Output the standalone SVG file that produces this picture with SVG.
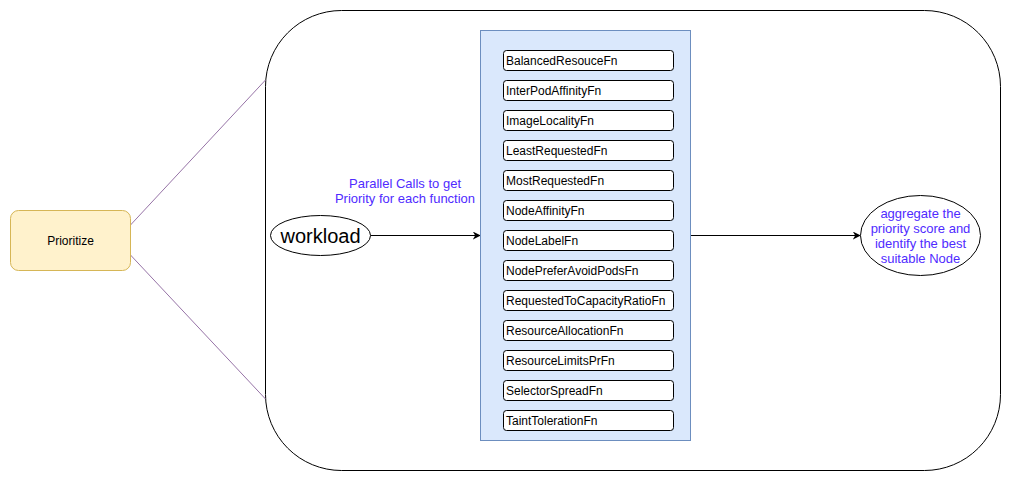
<svg xmlns="http://www.w3.org/2000/svg" width="1011" height="481" viewBox="0 0 1011 481">
<style>
text{font-family:"Liberation Sans",Arial,sans-serif;}
.fn rect{fill:#fff;stroke:#000;stroke-width:1;}
.fn text{font-size:12px;fill:#000;}
.lbl{font-size:13px;fill:#4f2bff;text-anchor:middle;}
</style>
<defs>
<marker id="arr" viewBox="0 0 10 10" refX="9" refY="5" markerWidth="8" markerHeight="8" markerUnits="userSpaceOnUse" orient="auto"><path d="M0,0 L10,5 L0,10 L3,5 Z" fill="#000"/></marker>
</defs>
<rect width="1011" height="481" fill="#fff"/>
<g id="container"><rect x="265.5" y="10.5" width="735" height="460" rx="76" ry="76" fill="#fff" stroke="#000"/></g>
<g id="connectors" fill="none">
<line x1="130.5" y1="225" x2="265.5" y2="80" stroke="#9673a6"/>
<line x1="130.5" y1="255" x2="265.5" y2="399" stroke="#9673a6"/>
<line x1="370.5" y1="235.5" x2="480" y2="235.5" stroke="#000" marker-end="url(#arr)"/>
<line x1="690.5" y1="235.5" x2="860" y2="235.5" stroke="#000" marker-end="url(#arr)"/>
</g>
<g id="prioritize"><rect x="10.5" y="210.5" width="120" height="60" rx="8" fill="#fff2cc" stroke="#d6b656"/><text x="70.5" y="245" font-size="12" text-anchor="middle">Prioritize</text></g>
<g id="workload"><ellipse cx="320.5" cy="235.5" rx="50" ry="20" fill="#fff" stroke="#000"/><text x="320.5" y="243" font-size="20" text-anchor="middle">workload</text></g>
<g id="label"><text class="lbl" x="405" y="188">Parallel Calls to get</text><text class="lbl" x="405" y="203">Priority for each function</text></g>
<g id="functions">
<rect x="480.5" y="30.5" width="210" height="410" fill="#dae8fc" stroke="#6c8ebf"/>
<g class="fn" id="fn1"><rect x="503.5" y="50.5" width="170" height="20" rx="3"/><text x="506" y="65">BalancedResouceFn</text></g>
<g class="fn" id="fn2"><rect x="503.5" y="80.5" width="170" height="20" rx="3"/><text x="506" y="95">InterPodAffinityFn</text></g>
<g class="fn" id="fn3"><rect x="503.5" y="110.5" width="170" height="20" rx="3"/><text x="506" y="125">ImageLocalityFn</text></g>
<g class="fn" id="fn4"><rect x="503.5" y="140.5" width="170" height="20" rx="3"/><text x="506" y="155">LeastRequestedFn</text></g>
<g class="fn" id="fn5"><rect x="503.5" y="170.5" width="170" height="20" rx="3"/><text x="506" y="185">MostRequestedFn</text></g>
<g class="fn" id="fn6"><rect x="503.5" y="200.5" width="170" height="20" rx="3"/><text x="506" y="215">NodeAffinityFn</text></g>
<g class="fn" id="fn7"><rect x="503.5" y="230.5" width="170" height="20" rx="3"/><text x="506" y="245">NodeLabelFn</text></g>
<g class="fn" id="fn8"><rect x="503.5" y="260.5" width="170" height="20" rx="3"/><text x="506" y="275">NodePreferAvoidPodsFn</text></g>
<g class="fn" id="fn9"><rect x="503.5" y="290.5" width="170" height="20" rx="3"/><text x="506" y="305">RequestedToCapacityRatioFn</text></g>
<g class="fn" id="fn10"><rect x="503.5" y="320.5" width="170" height="20" rx="3"/><text x="506" y="335">ResourceAllocationFn</text></g>
<g class="fn" id="fn11"><rect x="503.5" y="350.5" width="170" height="20" rx="3"/><text x="506" y="365">ResourceLimitsPrFn</text></g>
<g class="fn" id="fn12"><rect x="503.5" y="380.5" width="170" height="20" rx="3"/><text x="506" y="395">SelectorSpreadFn</text></g>
<g class="fn" id="fn13"><rect x="503.5" y="410.5" width="170" height="20" rx="3"/><text x="506" y="425">TaintTolerationFn</text></g>
</g>
<g id="aggregate"><ellipse cx="920.5" cy="235.5" rx="60" ry="40" fill="#fff" stroke="#000"/>
<text class="lbl" x="920.5" y="218">aggregate the</text><text class="lbl" x="920.5" y="233">priority score and</text><text class="lbl" x="920.5" y="248">identify the best</text><text class="lbl" x="920.5" y="263">suitable Node</text></g>
</svg>
